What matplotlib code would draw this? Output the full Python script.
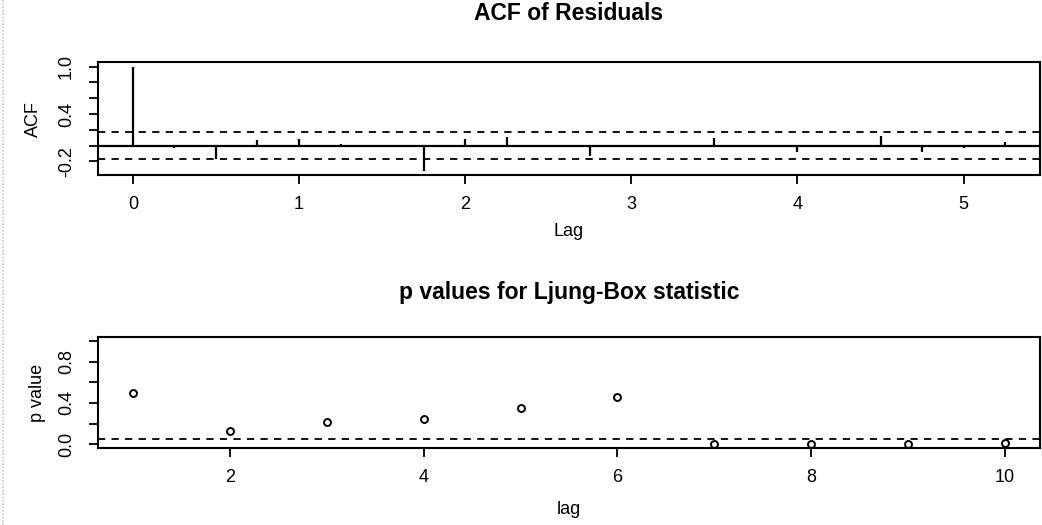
import numpy as np
import matplotlib
matplotlib.use("Agg")
import matplotlib.pyplot as plt
from matplotlib.lines import Line2D

plt.rcParams['font.family'] = ['Liberation Sans', 'DejaVu Sans']

# ---- data ----
acf_lags = [0.0, 0.25, 0.5, 0.75, 1.0, 1.25, 1.5, 1.75, 2.0, 2.25, 2.5,
            2.75, 3.0, 3.25, 3.5, 3.75, 4.0, 4.25, 4.5, 4.75, 5.0, 5.25]
acf_values = [1.0, -0.034, -0.165, 0.067, 0.084, 0.025, 0.005, -0.32, 0.084, 0.11, 0.004,
              -0.135, -0.006, 0.004, 0.10, -0.02, -0.084, 0.004, 0.126, -0.084, -0.034, 0.042]
acf_ci = 0.168

lb_lags = [1, 2, 3, 4, 5, 6, 7, 8, 9, 10]
lb_pvalues = [0.497, 0.131, 0.217, 0.246, 0.346, 0.458, 0.003, 0.003, 0.006, 0.010]
lb_threshold = 0.05

acf_yticks = [-0.2, 0.0, 0.2, 0.4, 0.6, 0.8, 1.0]
acf_yticklabels = ['-0.2', '', '', '0.4', '', '', '1.0']
acf_xticks = [0, 1, 2, 3, 4, 5]
lb_yticks = [0.0, 0.2, 0.4, 0.6, 0.8, 1.0]
lb_yticklabels = ['0.0', '', '0.4', '', '0.8', '']
lb_xticks = [2, 4, 6, 8, 10]

W, H = 1042, 525
fig = plt.figure(figsize=(W / 100, H / 100), dpi=100)
fig.patch.set_facecolor('white')

TICK_FS = 13
LABEL_FS = 13
TITLE_FS = 16.5
DASH = (0, (4, 3.5))


def rext(lo, hi):
    d = (hi - lo) * 0.04
    return lo - d, hi + d


def style(ax):
    for s in ax.spines.values():
        s.set_linewidth(1.5)
        s.set_color('black')
    ax.tick_params(axis='both', direction='out', length=6.5, width=1.3,
                   labelsize=TICK_FS, colors='black')
    ax.tick_params(axis='x', pad=8.5)
    ax.tick_params(axis='y', pad=10, labelrotation=90)
    for lab in ax.get_yticklabels():
        lab.set_verticalalignment('center')


# ---- top: ACF of residuals ----
ax1 = fig.add_axes([98 / W, 1 - 175 / H, 942 / W, 112.5 / H])
ax1.vlines(acf_lags, 0, acf_values, colors='black', linewidth=1.6)
ax1.axhline(0, color='black', linewidth=1.6)
ax1.axhline(acf_ci, color='black', linewidth=1.3, linestyle=DASH)
ax1.axhline(-acf_ci, color='black', linewidth=1.3, linestyle=DASH)
ax1.set_xlim(*rext(min(acf_lags), max(acf_lags)))
ax1.set_ylim(*rext(min(min(acf_values), -acf_ci), max(max(acf_values), acf_ci)))
ax1.set_xticks(acf_xticks)
ax1.set_xticklabels([str(t) for t in acf_xticks])
ax1.set_yticks(acf_yticks)
ax1.set_yticklabels(acf_yticklabels)
style(ax1)
ax1.set_xlabel('Lag', fontsize=LABEL_FS)
ax1.xaxis.set_label_coords(0.5, (175 - 232) / 112.5)
ax1.xaxis.label.set_verticalalignment('center')
ax1.set_ylabel('ACF', fontsize=LABEL_FS)
ax1.yaxis.set_label_coords((33 - 98) / 942, 0.5)
ax1.yaxis.label.set_verticalalignment('center')
fig.text((98 + 1040) / 2 / W, 1 - 13 / H, 'ACF of Residuals', ha='center', va='center',
         fontsize=TITLE_FS, fontweight='bold')

# ---- bottom: Ljung-Box p values ----
ax2 = fig.add_axes([98 / W, 1 - 448.3 / H, 942 / W, 111.6 / H])
ax2.plot(lb_lags, lb_pvalues, linestyle='none', marker='o', markersize=5,
         markerfacecolor='white', markeredgecolor='black', markeredgewidth=1.4)
ax2.axhline(lb_threshold, color='black', linewidth=1.3, linestyle=DASH)
ax2.set_xlim(*rext(min(lb_lags), max(lb_lags)))
ax2.set_ylim(*rext(0, 1))
ax2.set_xticks(lb_xticks)
ax2.set_xticklabels([str(t) for t in lb_xticks])
ax2.set_yticks(lb_yticks)
ax2.set_yticklabels(lb_yticklabels)
style(ax2)
ax2.set_xlabel('lag', fontsize=LABEL_FS)
ax2.xaxis.set_label_coords(0.5, (448.3 - 510) / 111.6)
ax2.xaxis.label.set_verticalalignment('center')
ax2.set_ylabel('p value', fontsize=LABEL_FS)
ax2.yaxis.set_label_coords((38 - 98) / 942, 0.5)
ax2.yaxis.label.set_verticalalignment('center')
fig.text((98 + 1040) / 2 / W, 1 - 293 / H, 'p values for Ljung-Box statistic',
         ha='center', va='center', fontsize=TITLE_FS, fontweight='bold')

# faint scan edge on the left
fig.add_artist(Line2D([2.5 / W, 2.5 / W], [0, 1], color='#c8c8c8', linewidth=1.2,
                      linestyle=(0, (1, 1)), transform=fig.transFigure))

fig.savefig('out.png', dpi=100, facecolor='white')
